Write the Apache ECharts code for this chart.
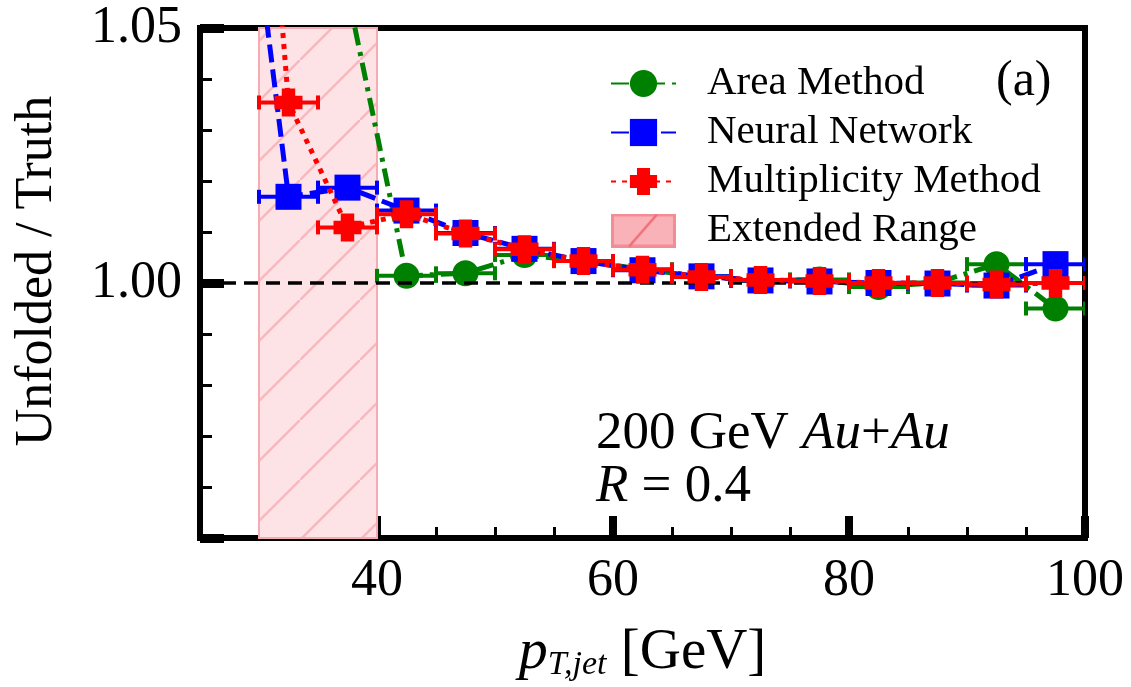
<!DOCTYPE html>
<html>
<head>
<meta charset="utf-8">
<script src="https://cdn.jsdelivr.net/npm/echarts@6/dist/echarts.min.js"></script>
<style>html,body{margin:0;padding:0;background:#fff;}#chart{width:1131px;height:687px;}</style>
</head>
<body>
<div id="chart"></div>
<script>
// ---- data ----
const ptCenters = [27.5, 32.5, 37.5, 42.5, 47.5, 52.5, 57.5, 62.5, 67.5, 72.5, 77.5, 82.5, 87.5, 92.5, 97.5];
const binHalfWidth = 2.5;
const areaMethod   = [null, null, 1.057, 1.0014, 1.0019, 1.0055, 1.0043, 1.0027, 1.0013, 1.0004, 1.0007, 0.9992, 1.0001, 1.0037, 0.9950];
const neuralNet    = [1.110, 1.0169, 1.0187, 1.0142, 1.0098, 1.0067, 1.0043, 1.0025, 1.0013, 1.0005, 1.0003, 1.0000, 0.9999, 0.9995, 1.0037];
const multiplicity = [1.178, 1.0354, 1.0109, 1.0135, 1.0097, 1.0066, 1.0043, 1.0026, 1.0012, 1.0006, 1.0004, 1.0000, 1.0000, 0.9997, 1.0000];
const extendedRange = [30, 40];
const referenceLine = [1.0];
const xMajorTicks = [40, 60, 80, 100];
const xRange = [25, 100];
const yRange = [0.95, 1.05];

const FONT = 'Liberation Serif';
const GREEN = '#008000', BLUE = '#0000ff', RED = '#ff0000';
const plusPath = 'path://M26,0H74V26H100V74H74V100H26V74H0V26H26Z';

// hatch pattern for the extended range
const hatch = document.createElement('canvas');
hatch.width = 60; hatch.height = 60;
(function(){
  const c = hatch.getContext('2d');
  c.fillStyle = '#fde3e6'; c.fillRect(0,0,60,60);
  c.strokeStyle = '#f7b8be'; c.lineWidth = 2.5;
  c.beginPath(); c.moveTo(-2,62); c.lineTo(62,-2); c.stroke();
})();
// legend icon for the extended range
const legIcon = document.createElement('canvas');
legIcon.width = 65; legIcon.height = 34;
(function(){
  const c = legIcon.getContext('2d');
  c.fillStyle = '#f9b3b8'; c.fillRect(0,0,65,34);
  c.strokeStyle = '#f38c94'; c.lineWidth = 3; c.strokeRect(1.5,1.5,62,31);
  c.strokeStyle = '#ef6f7a'; c.lineWidth = 2.5;
  c.beginPath(); c.moveTo(18,33); c.lineTo(46,1); c.stroke();
})();

function pairs(vals){
  const out = [];
  ptCenters.forEach((x,i)=>{ if (vals[i] != null) out.push([x, vals[i]]); });
  return out;
}

function errSeries(name, vals, color, z){
  return {
    type: 'custom', name: name + ' err', z: z, clip: true, silent: true,
    data: pairs(vals),
    encode: {x: 0, y: 1},
    renderItem: function(params, api){
      const x = api.value(0), y = api.value(1);
      const p0 = api.coord([x - binHalfWidth, y]);
      const p1 = api.coord([x + binHalfWidth, y]);
      const h = 7, st = {stroke: color, lineWidth: 4};
      return {type: 'group', children: [
        {type:'line', shape:{x1:p0[0], y1:p0[1], x2:p1[0], y2:p1[1]}, style: st},
        {type:'line', shape:{x1:p0[0], y1:p0[1]-h, x2:p0[0], y2:p0[1]+h}, style: st},
        {type:'line', shape:{x1:p1[0], y1:p1[1]-h, x2:p1[0], y2:p1[1]+h}, style: st}
      ]};
    }
  };
}

function lineSeries(name, vals, color, symbol, size, dash, z){
  return {
    type: 'line', name: name, z: z, clip: true,
    data: pairs(vals),
    symbol: symbol, symbolSize: size, showAllSymbol: true,
    itemStyle: {color: color},
    lineStyle: {color: color, width: 5, type: dash},
    emphasis: {disabled: true}
  };
}

const chart = echarts.init(document.getElementById('chart'), null, {renderer: 'canvas'});
chart.setOption({
  animation: false,
  backgroundColor: '#fff',
  grid: {left: 200, right: 46, top: 28, bottom: 145, show: true, borderWidth: 6, borderColor: '#000', containLabel: false},
  legend: {
    orient: 'vertical', left: 605, top: 58,
    itemWidth: 65, itemHeight: 34, itemGap: 8,
    selectedMode: false,
    textStyle: {fontFamily: FONT, fontSize: 41, color: '#000', lineHeight: 34, padding: [0,0,0,26]},
    data: [
      {name: 'Area Method'},
      {name: 'Neural Network'},
      {name: 'Multiplicity Method'},
      {name: 'Extended Range', icon: 'image://' + legIcon.toDataURL()}
    ]
  },
  xAxis: [
    {
      type: 'value', min: xRange[0], max: xRange[1], interval: 5, position: 'bottom',
      axisLine: {show: true, onZero: false, lineStyle: {color: '#000', width: 6}},
      axisTick: {show: true, inside: true, length: 11, lineStyle: {color: '#000', width: 3}},
      axisLabel: {customValues: xMajorTicks, fontFamily: FONT, fontSize: 52, color: '#000', margin: 17},
      splitLine: {show: false},
      name: '{p|p}{s|T,jet}{n| [GeV]}', nameLocation: 'middle', nameGap: 86,
      nameTextStyle: {rich: {
        p: {fontFamily: FONT, fontStyle: 'italic', fontSize: 58, color: '#000'},
        s: {fontFamily: FONT, fontStyle: 'italic', fontSize: 34, color: '#000', verticalAlign: 'bottom'},
        n: {fontFamily: FONT, fontSize: 57, color: '#000'}
      }}
    },
    {
      type: 'value', min: xRange[0], max: xRange[1], position: 'bottom',
      axisLine: {show: false},
      axisTick: {show: true, inside: true, length: 22, customValues: xMajorTicks, lineStyle: {color: '#000', width: 8}},
      axisLabel: {show: false},
      splitLine: {show: false}
    }
  ],
  yAxis: {
    type: 'value', min: yRange[0], max: yRange[1], interval: 0.05,
    axisLine: {show: true, onZero: false, lineStyle: {color: '#000', width: 6}},
    axisTick: {show: true, inside: true, length: 24, lineStyle: {color: '#000', width: 9}},
    minorTick: {show: true, splitNumber: 5, length: 12, lineStyle: {color: '#000', width: 3}},
    axisLabel: {
      fontFamily: FONT, fontSize: 52, color: '#000', margin: 18,
      formatter: function(v){ return Math.abs(v - yRange[0]) < 1e-6 ? '' : v.toFixed(2); }
    },
    splitLine: {show: false}
  },
  graphic: [
    {type: 'text', x: 37, y: 271, rotation: Math.PI/2,
     style: {text: 'Unfolded / Truth', font: '52px "Liberation Serif"', fill: '#000', align: 'center', verticalAlign: 'middle'}},
    {type: 'text', x: 996, y: 82,
     style: {text: '(a)', font: '50px "Liberation Serif"', fill: '#000', align: 'left', verticalAlign: 'middle'}},
    {type: 'text', x: 596, y: 434,
     style: {text: '{n|200 GeV }{i|Au}{n|+}{i|Au}', align: 'left', verticalAlign: 'middle',
       rich: {n: {fontFamily: FONT, fontSize: 53, fill: '#000'}, i: {fontFamily: FONT, fontStyle: 'italic', fontSize: 53, fill: '#000'}}}},
    {type: 'text', x: 596, y: 487,
     style: {text: '{i|R}{n| = 0.4}', align: 'left', verticalAlign: 'middle',
       rich: {n: {fontFamily: FONT, fontSize: 53, fill: '#000'}, i: {fontFamily: FONT, fontStyle: 'italic', fontSize: 53, fill: '#000'}}}}
  ],
  series: [
    {
      type: 'line', name: 'Extended Range', data: [], z: 0,
      itemStyle: {color: '#f9b3b8'},
      markArea: {
        silent: true,
        itemStyle: {color: {image: hatch, repeat: 'repeat'}, borderColor: '#f6aab1', borderWidth: 2},
        data: [[{xAxis: extendedRange[0]}, {xAxis: extendedRange[1]}]]
      },
      markLine: {
        silent: true, symbol: 'none', label: {show: false},
        lineStyle: {color: '#000', width: 3.5, type: [14, 8]},
        data: referenceLine.map(v => ({yAxis: v}))
      }
    },
    errSeries('Area Method', areaMethod, GREEN, 1),
    lineSeries('Area Method', areaMethod, GREEN, 'circle', 26, [18, 7, 4, 7], 2),
    errSeries('Neural Network', neuralNet, BLUE, 3),
    lineSeries('Neural Network', neuralNet, BLUE, 'rect', 26, [18, 7], 4),
    errSeries('Multiplicity Method', multiplicity, RED, 5),
    lineSeries('Multiplicity Method', multiplicity, RED, plusPath, 28, [5, 6], 6)
  ]
});
</script>
</body>
</html>
